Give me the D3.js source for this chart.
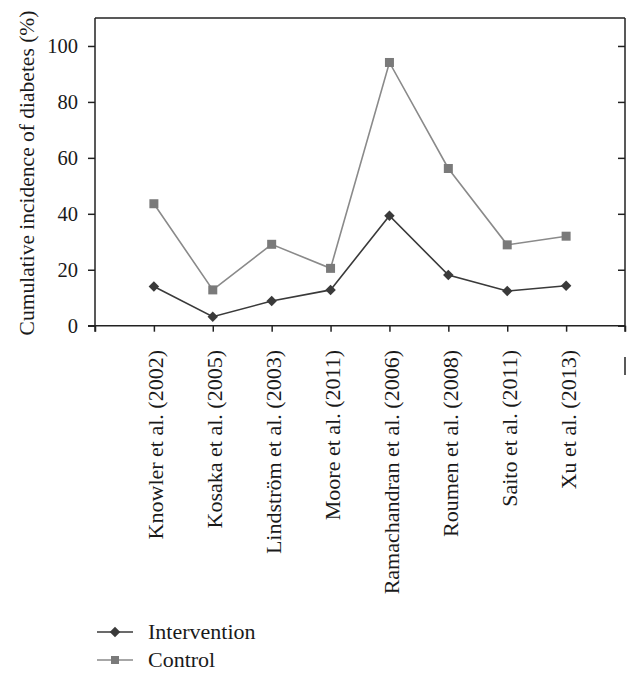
<!DOCTYPE html>
<html>
<head>
<meta charset="utf-8">
<script src="https://cdn.jsdelivr.net/npm/d3@7"></script>
<style>
  html, body { margin: 0; padding: 0; background: #fff; }
  text { font-family: "Liberation Serif", "Times New Roman", serif; fill: #1a1a1a; }
</style>
</head>
<body>
<svg id="chart" width="640" height="681"></svg>
<script>
const categories = [
  "Knowler et al. (2002)",
  "Kosaka et al. (2005)",
  "Lindström et al. (2003)",
  "Moore et al. (2011)",
  "Ramachandran et al. (2006)",
  "Roumen et al. (2008)",
  "Saito et al. (2011)",
  "Xu et al. (2013)"
];
const intervention = [14.0, 3.2, 8.8, 12.8, 39.3, 18.1, 12.4, 14.3];
const control = [43.6, 12.8, 29.1, 20.5, 94.1, 56.2, 28.9, 32.0];
const yTicks = [0, 20, 40, 60, 80, 100];
const seriesNames = ["Intervention", "Control"];
const yTitle = "Cumulative incidence of diabetes (%)";

(function () {
const svg = d3.select("#chart");
const pLeft = 95, pRight = 625, pTop = 18, pBottom = 325.7;

const x = d3.scaleLinear().domain([0, categories.length + 1]).range([pLeft, pRight]);
const y = d3.scaleLinear().domain([0, 110]).range([pBottom, pTop]);

const axisColor = "#222";

// box: top and right lines
svg.append("line").attr("x1", pLeft).attr("x2", pRight).attr("y1", pTop).attr("y2", pTop)
  .attr("stroke", axisColor).attr("stroke-width", 1.5);
svg.append("line").attr("x1", pRight).attr("x2", pRight).attr("y1", pTop).attr("y2", pBottom + 6)
  .attr("stroke", axisColor).attr("stroke-width", 1.5);

// left y axis
const yAxis = d3.axisLeft(y).tickValues(yTicks).tickSize(7).tickPadding(10);
const gy = svg.append("g").attr("transform", `translate(${pLeft},0)`).call(yAxis);
gy.select(".domain").remove();
gy.append("line").attr("x1", 0).attr("x2", 0).attr("y1", pTop).attr("y2", pBottom + 6)
  .attr("stroke", axisColor).attr("stroke-width", 1.5);
gy.selectAll(".tick line").attr("stroke", axisColor).attr("stroke-width", 1.5);
gy.selectAll(".tick text").attr("font-size", 20.5).attr("fill", "#1a1a1a")
  .attr("font-family", "Liberation Serif, serif");

// right y axis (inner ticks, no labels)
const yAxisR = d3.axisLeft(y).tickValues(yTicks).tickSize(7).tickFormat("");
const gyr = svg.append("g").attr("transform", `translate(${pRight},0)`).call(yAxisR);
gyr.select(".domain").remove();
gyr.selectAll(".tick line").attr("stroke", axisColor).attr("stroke-width", 1.5);

// x axis
const xTickVals = d3.range(0, categories.length + 2);
const xAxis = d3.axisBottom(x).tickValues(xTickVals).tickSize(6).tickFormat("");
const gx = svg.append("g").attr("transform", `translate(0,${pBottom})`).call(xAxis);
gx.select(".domain").remove();
gx.append("line").attr("x1", pLeft - 7).attr("x2", pRight).attr("y1", 0).attr("y2", 0)
  .attr("stroke", axisColor).attr("stroke-width", 1.5);
gx.selectAll(".tick line").attr("stroke", axisColor).attr("stroke-width", 1.5);

// category labels (rotated)
svg.append("g").selectAll("text").data(categories).join("text")
  .attr("transform", (d, i) => `translate(${x(i + 1)},350) rotate(-90)`)
  .attr("text-anchor", "end")
  .attr("dy", "0.43em")
  .attr("font-size", 22)
  .text(d => d);

// small vertical mark under last tick
svg.append("line").attr("x1", x(categories.length + 1)).attr("x2", x(categories.length + 1))
  .attr("y1", 357).attr("y2", 375).attr("stroke", axisColor).attr("stroke-width", 1.5);

// y title
svg.append("text")
  .attr("transform", `translate(26,173) rotate(-90)`)
  .attr("text-anchor", "middle")
  .attr("dy", "0.35em")
  .attr("font-size", 21.5)
  .text(yTitle);

const line = d3.line().x((d, i) => x(i + 1)).y(d => y(d));
const ctrlColor = "#8a8a8a", ctrlMarker = "#7a7a7a";
const intColor = "#3a3a3a";

// control
svg.append("path").datum(control).attr("d", line).attr("fill", "none")
  .attr("stroke", ctrlColor).attr("stroke-width", 1.6);
svg.append("g").selectAll("rect").data(control).join("rect")
  .attr("x", (d, i) => x(i + 1) - 4.5).attr("y", d => y(d) - 4.5)
  .attr("width", 9).attr("height", 9).attr("fill", ctrlMarker);

// intervention
svg.append("path").datum(intervention).attr("d", line).attr("fill", "none")
  .attr("stroke", intColor).attr("stroke-width", 1.6);
const diamond = d3.symbol().type(d3.symbolDiamond2).size(70);
svg.append("g").selectAll("path").data(intervention).join("path")
  .attr("transform", (d, i) => `translate(${x(i + 1)},${y(d)})`)
  .attr("d", diamond).attr("fill", intColor);

// legend
const legend = svg.append("g");
const legItems = [
  { name: seriesNames[0], color: intColor, marker: "diamond", y: 632 },
  { name: seriesNames[1], color: ctrlColor, marker: "square", y: 660 }
];
legItems.forEach(it => {
  legend.append("line").attr("x1", 97).attr("x2", 133).attr("y1", it.y).attr("y2", it.y)
    .attr("stroke", it.color).attr("stroke-width", 1.6);
  if (it.marker === "diamond") {
    legend.append("path").attr("transform", `translate(115,${it.y})`).attr("d", diamond).attr("fill", intColor);
  } else {
    legend.append("rect").attr("x", 111).attr("y", it.y - 4).attr("width", 8).attr("height", 8).attr("fill", ctrlMarker);
  }
  legend.append("text").attr("x", 148).attr("y", it.y + 7).attr("font-size", 22).text(it.name);
});
})();
</script>
</body>
</html>
